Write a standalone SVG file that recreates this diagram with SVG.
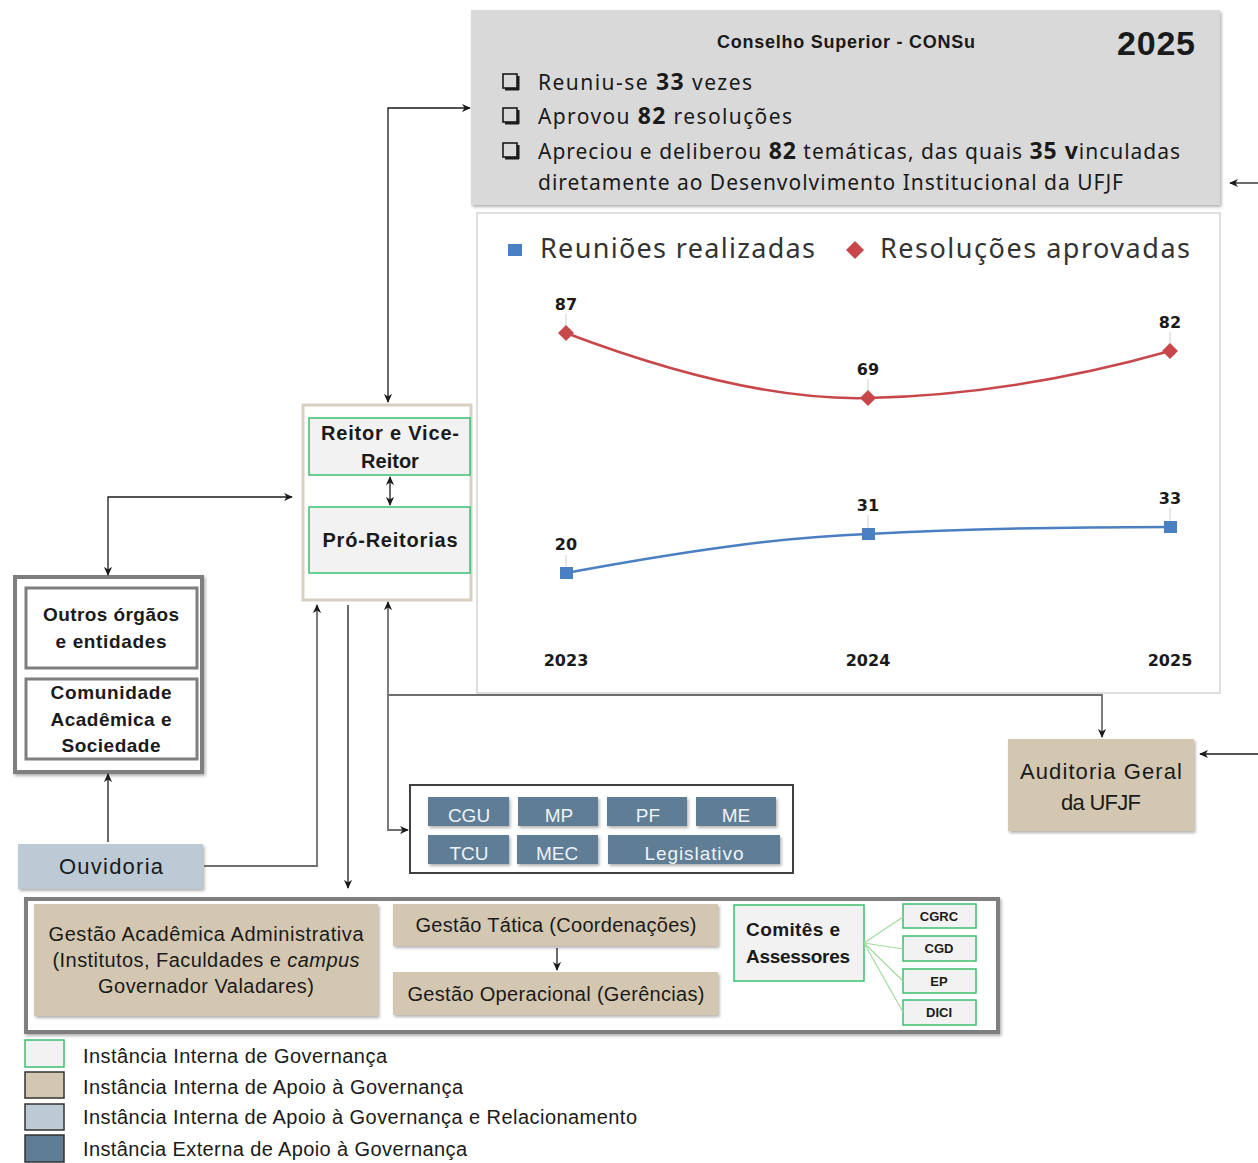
<svg xmlns="http://www.w3.org/2000/svg" width="1258" height="1163" viewBox="0 0 1258 1163">
<defs>
<marker id="ah" viewBox="0 0 10 10" refX="9" refY="5" markerWidth="9" markerHeight="9" markerUnits="userSpaceOnUse" orient="auto-start-reverse">
<path d="M0,0.5 L10,5 L0,9.5 L3,5 Z" fill="#1a1a1a"/>
</marker>
<filter id="sh" x="-5%" y="-5%" width="112%" height="115%">
<feDropShadow dx="1.5" dy="2" stdDeviation="1.5" flood-color="#000" flood-opacity="0.3"/>
</filter>
</defs>
<style>
text{font-family:"Liberation Sans",Arial,sans-serif;fill:#1a1a1a}
.b{font-weight:bold}
.c{text-anchor:middle}
.ns{font-family:"Noto Sans","Open Sans","Liberation Sans",sans-serif}
.tan{fill:#d3c7b1}
.gov{fill:#f2f2f2;stroke:#3cbf6e;stroke-width:1.5}
.ext{fill:#5f7d95}
.wt{fill:#eef2f5;font-size:19px;text-anchor:middle}
.conn{fill:none;stroke:#1a1a1a;stroke-width:1.3}
.grayc{fill:none;stroke:#6e6e6e;stroke-width:1.8}
.grp{fill:#fff;stroke:#7f7f7f;stroke-width:4}
.inner{fill:#fff;stroke:#7f7f7f;stroke-width:3}
.small{font-size:13px;font-weight:bold;text-anchor:middle}
.lg{font-size:20px}
.val{font-size:16px;font-weight:bold;text-anchor:middle;font-family:"DejaVu Sans","Liberation Sans",sans-serif}
</style>
<rect width="1258" height="1163" fill="#fff"/>

<!-- CONSu -->
<g id="consu">
<rect x="471" y="10" width="749" height="195" fill="#d9d9d9" filter="url(#sh)"/>
<text x="846" y="48" class="b c" font-size="18" textLength="258">Conselho Superior - CONSu</text>
<text x="1156" y="55" class="b c" font-size="34" textLength="78">2025</text>
<g fill="none" stroke="#1a1a1a">
<rect x="503" y="74" width="14" height="14" stroke-width="1.6"/>
<rect x="503" y="108" width="14" height="14" stroke-width="1.6"/>
<rect x="503" y="143" width="14" height="14" stroke-width="1.6"/>
</g>
<g fill="#1a1a1a">
<rect x="505" y="88" width="14" height="2.5"/><rect x="517" y="76" width="2.5" height="14"/>
<rect x="505" y="122" width="14" height="2.5"/><rect x="517" y="110" width="2.5" height="14"/>
<rect x="505" y="157" width="14" height="2.5"/><rect x="517" y="145" width="2.5" height="14"/>
</g>
<text x="538" y="90" class="ns" font-size="21" textLength="214">Reuniu-se  <tspan class="b" font-size="23">33</tspan> vezes</text>
<text x="538" y="124" class="ns" font-size="21" textLength="254">Aprovou  <tspan class="b" font-size="23">82</tspan> resoluções</text>
<text x="538" y="159" class="ns" font-size="21" textLength="642">Apreciou e deliberou <tspan class="b" font-size="23">82</tspan> temáticas, das quais  <tspan class="b" font-size="23">35 v</tspan>inculadas</text>
<text x="538" y="190" class="ns" font-size="21" textLength="585">diretamente ao Desenvolvimento Institucional da UFJF</text>
</g>

<!-- Chart -->
<g id="chart">
<rect x="477" y="213" width="743" height="480" fill="#fff" stroke="#d4d4d4" stroke-width="1.5"/>
<rect x="508" y="244" width="14" height="12" fill="#4a7fc1"/>
<text x="540" y="258" class="ns" font-size="27" textLength="275" style="fill:#333">Reuniões realizadas</text>
<path d="M855,241 L864,250 L855,259 L846,250 Z" fill="#c8474a"/>
<text x="880" y="258" class="ns" font-size="27" textLength="310" style="fill:#333">Resoluções aprovadas</text>
<g stroke="#d0d0d0" stroke-width="1">
<line x1="566" y1="314" x2="566" y2="326"/>
<line x1="868" y1="379" x2="868" y2="391"/>
<line x1="1170" y1="332" x2="1170" y2="344"/>
<line x1="566" y1="555" x2="566" y2="567"/>
<line x1="868" y1="515" x2="868" y2="528"/>
<line x1="1170" y1="508" x2="1170" y2="521"/>
</g>
<path d="M566,333 C690,380 790,400 868,398 C960,396 1060,382 1170,351" fill="none" stroke="#c8474a" stroke-width="2.5"/>
<path d="M566,573 C680,552 780,537 868,534 C960,529 1060,527 1170,527" fill="none" stroke="#4a7fc1" stroke-width="2.5"/>
<g fill="#c8474a">
<path d="M566,325 L574,333 L566,341 L558,333 Z"/>
<path d="M868,390 L876,398 L868,406 L860,398 Z"/>
<path d="M1170,343 L1178,351 L1170,359 L1162,351 Z"/>
</g>
<g fill="#4a7fc1">
<rect x="560" y="567" width="13" height="12"/>
<rect x="862" y="528" width="13" height="12"/>
<rect x="1164" y="521" width="13" height="12"/>
</g>
<text x="566" y="310" class="val">87</text>
<text x="868" y="375" class="val">69</text>
<text x="1170" y="328" class="val">82</text>
<text x="566" y="550" class="val">20</text>
<text x="868" y="511" class="val">31</text>
<text x="1170" y="504" class="val">33</text>
<text x="566" y="666" class="val" font-size="17">2023</text>
<text x="868" y="666" class="val" font-size="17">2024</text>
<text x="1170" y="666" class="val" font-size="17">2025</text>
</g>

<!-- Reitoria -->
<g id="reitoria">
<rect x="303" y="405" width="168" height="195" fill="#fff" stroke="#d9cfc0" stroke-width="3"/>
</g>
<g id="reitor">
<rect x="309" y="418" width="161" height="57" class="gov"/>
<text x="390" y="440" class="b c" font-size="20" textLength="138">Reitor e Vice-</text>
<text x="390" y="468" class="b c" font-size="20">Reitor</text>
</g>
<g id="pro-reitorias">
<rect x="309" y="507" width="161" height="66" class="gov"/>
<text x="390" y="547" class="b c" font-size="20" textLength="135">Pró-Reitorias</text>
</g>

<!-- Outros órgãos / Comunidade -->
<g id="externos">
<rect x="15" y="577" width="187" height="195" class="grp" filter="url(#sh)"/>
</g>
<g id="outros-orgaos">
<rect x="26" y="588" width="171" height="80" class="inner"/>
<text x="111" y="621" class="b c" font-size="19" textLength="136">Outros órgãos</text>
<text x="111" y="648" class="b c" font-size="19" textLength="111">e entidades</text>
</g>
<g id="comunidade">
<rect x="26" y="679" width="171" height="80" class="inner"/>
<text x="111" y="699" class="b c" font-size="19" textLength="121">Comunidade</text>
<text x="111" y="726" class="b c" font-size="19" textLength="121">Acadêmica e</text>
<text x="111" y="752" class="b c" font-size="19" textLength="99">Sociedade</text>
</g>

<!-- Ouvidoria -->
<g id="ouvidoria">
<rect x="18" y="844" width="185" height="45" fill="#bccad5" filter="url(#sh)"/>
<text x="111" y="874" class="c" font-size="22" textLength="104">Ouvidoria</text>
</g>

<!-- Externos de apoio -->
<g id="orgaos-externos">
<rect x="410" y="785" width="383" height="88" fill="#fff" stroke="#404040" stroke-width="2"/>
<g filter="url(#sh)">
<rect x="428" y="797" width="81" height="29" class="ext"/>
<rect x="518" y="797" width="80" height="29" class="ext"/>
<rect x="607" y="797" width="80" height="29" class="ext"/>
<rect x="696" y="797" width="80" height="29" class="ext"/>
<rect x="428" y="835" width="81" height="29" class="ext"/>
<rect x="517" y="835" width="81" height="29" class="ext"/>
<rect x="608" y="835" width="172" height="29" class="ext"/>
</g>
<text x="469" y="822" class="wt">CGU</text>
<text x="559" y="822" class="wt">MP</text>
<text x="648" y="822" class="wt">PF</text>
<text x="736" y="822" class="wt">ME</text>
<text x="469" y="860" class="wt">TCU</text>
<text x="557" y="860" class="wt">MEC</text>
<text x="694" y="860" class="wt" textLength="99">Legislativo</text>
</g>

<!-- Auditoria -->
<g id="auditoria">
<rect x="1008" y="739" width="186" height="92" class="tan" filter="url(#sh)"/>
<text x="1101" y="779" class="c" font-size="22" textLength="162">Auditoria Geral</text>
<text x="1101" y="810" class="c" font-size="22" textLength="80">da UFJF</text>
</g>

<!-- Gestão -->
<g id="gestao">
<rect x="26" y="899" width="972" height="133" class="grp" filter="url(#sh)"/>
</g>
<g id="gestao-academica">
<rect x="34" y="904" width="344" height="112" class="tan" filter="url(#sh)"/>
<text x="206" y="941" class="c" font-size="20" textLength="315">Gestão Acadêmica Administrativa</text>
<text x="206" y="967" class="c" font-size="20" textLength="307">(Institutos, Faculdades e <tspan font-style="italic">campus</tspan></text>
<text x="206" y="993" class="c" font-size="20" textLength="216">Governador Valadares)</text>
</g>
<g id="gestao-tatica">
<rect x="393" y="904" width="325" height="42" class="tan" filter="url(#sh)"/>
<text x="556" y="932" class="c" font-size="20" textLength="281">Gestão Tática (Coordenações)</text>
</g>
<g id="gestao-operacional">
<rect x="393" y="972" width="325" height="43" class="tan" filter="url(#sh)"/>
<text x="556" y="1001" class="c" font-size="20" textLength="297">Gestão Operacional (Gerências)</text>
</g>
<g id="comites">
<rect x="734" y="905" width="130" height="76" class="gov"/>
<text x="746" y="936" class="b" font-size="19" textLength="94">Comitês e</text>
<text x="746" y="963" class="b" font-size="19" textLength="104">Assessores</text>
</g>
<g id="cgrc"><rect x="903" y="904" width="73" height="24" class="gov"/><text x="939" y="921" class="small">CGRC</text></g>
<g id="cgd"><rect x="903" y="936" width="73" height="25" class="gov"/><text x="939" y="953" class="small">CGD</text></g>
<g id="ep"><rect x="903" y="969" width="73" height="24" class="gov"/><text x="939" y="986" class="small">EP</text></g>
<g id="dici"><rect x="903" y="1000" width="73" height="25" class="gov"/><text x="939" y="1017" class="small">DICI</text></g>

<!-- Connectors -->
<g id="connectors">
<polyline class="conn" points="470,108 388,108 388,402" marker-start="url(#ah)" marker-end="url(#ah)"/>
<line class="conn" x1="390" y1="477" x2="390" y2="505" marker-start="url(#ah)" marker-end="url(#ah)"/>
<polyline class="conn" points="108,575 108,497 292,497" marker-start="url(#ah)" marker-end="url(#ah)"/>
<line class="conn" x1="108" y1="842" x2="108" y2="774" marker-end="url(#ah)"/>
<polyline class="grayc" points="204,866 317,866 317,605" marker-end="url(#ah)"/>
<line class="conn" x1="348" y1="605" x2="348" y2="888" marker-end="url(#ah)"/>
<polyline class="grayc" points="408,830 388,830 388,602" marker-start="url(#ah)" marker-end="url(#ah)"/>
<polyline class="grayc" points="388,695 1102,695 1102,737" marker-end="url(#ah)"/>
<line class="conn" x1="1258" y1="183" x2="1230" y2="183" marker-end="url(#ah)"/>
<line class="conn" x1="1258" y1="754" x2="1200" y2="754" marker-end="url(#ah)"/>
<line class="conn" x1="557" y1="948" x2="557" y2="970" marker-end="url(#ah)"/>
<g stroke="#9ddc9d" stroke-width="1.2">
<line x1="864" y1="943" x2="903" y2="917"/>
<line x1="864" y1="943" x2="903" y2="949"/>
<line x1="864" y1="943" x2="903" y2="981"/>
<line x1="864" y1="943" x2="903" y2="1012"/>
</g>
</g>

<!-- Legend -->
<g id="legenda">
<rect x="25" y="1040" width="39" height="27" fill="#f2f2f2" stroke="#3cbf6e" stroke-width="1.5"/>
<rect x="25" y="1072" width="39" height="26" fill="#d3c7b1" stroke="#333" stroke-width="1.5"/>
<rect x="25" y="1104" width="39" height="26" fill="#bccad5" stroke="#333" stroke-width="1.5"/>
<rect x="25" y="1135" width="39" height="27" fill="#5f7d95" stroke="#333" stroke-width="1.5"/>
<text x="83" y="1063" class="lg" textLength="304">Instância Interna de Governança</text>
<text x="83" y="1094" class="lg" textLength="380">Instância Interna de Apoio à Governança</text>
<text x="83" y="1124" class="lg" textLength="554">Instância Interna de Apoio à Governança e Relacionamento</text>
<text x="83" y="1156" class="lg" textLength="384">Instância Externa de Apoio à Governança</text>
</g>
</svg>
